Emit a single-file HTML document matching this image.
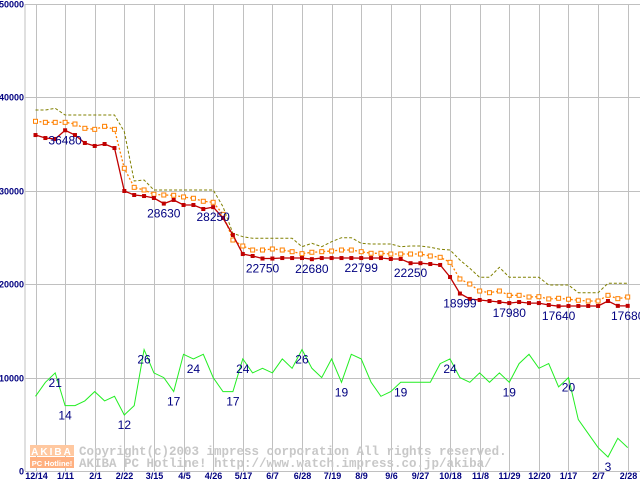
<!DOCTYPE html>
<html><head><meta charset="utf-8"><style>
html,body{margin:0;padding:0;background:#fff;}
svg{display:block;}
text{font-family:"Liberation Sans",sans-serif;}
</style></head><body>
<svg id="chart" width="640" height="480" viewBox="0 0 640 480" xmlns="http://www.w3.org/2000/svg">
<g id="grid"></g>
<g id="watermark">
<rect x="30" y="445" width="44" height="11" fill="#ffc8a0"/>
<rect x="30" y="457" width="44" height="11" fill="#ffb080"/>
<text x="52" y="455" font-size="10" font-weight="bold" fill="#fff" text-anchor="middle" letter-spacing="2">AKIBA</text>
<text x="52" y="466" font-size="7.5" font-weight="bold" fill="#fff" text-anchor="middle">PC Hotline!</text>
<text x="79" y="455" font-size="12.5" font-weight="bold" fill="#c8c8c8" style="font-family:'Liberation Mono',monospace">Copyright(c)2003 impress corporation All rights reserved.</text>
<text x="79" y="467" font-size="12.5" font-weight="bold" fill="#c8c8c8" style="font-family:'Liberation Mono',monospace">AKIBA PC Hotline!  http://www.watch.impress.co.jp/akiba/</text>
</g>
<g id="series"></g>
<g id="labels"></g>
</svg>
<script>
const xLabels=["12/14","1/11","2/1","2/22","3/15","4/5","4/26","5/17","6/7","6/28","7/19","8/9","9/6","9/27","10/18","11/8","11/29","12/20","1/17","2/7","2/28"];
const yTicks=[0,10000,20000,30000,40000,50000];
const minPrice=[35970,35650,35550,36480,35970,35120,34800,35010,34580,29980,29550,29440,29230,28630,29020,28480,28480,28050,28250,27090,25270,23230,23020,22750,22750,22800,22800,22800,22680,22800,22800,22800,22800,22799,22800,22800,22700,22700,22250,22250,22160,22060,20770,18999,18420,18310,18200,18090,17980,18090,17980,17980,17770,17640,17670,17670,17670,17670,18200,17680,17680];
const avgPrice=[37440,37330,37330,37330,37150,36690,36580,36900,36580,32410,30370,30090,29630,29550,29520,29340,29200,28880,28770,27480,24730,24090,23660,23660,23770,23660,23480,23270,23420,23480,23550,23660,23660,23480,23310,23310,23230,23230,23230,23230,23020,22880,22340,20560,20020,19270,19090,19270,18810,18810,18630,18660,18420,18490,18390,18280,18200,18200,18810,18450,18630];
const maxPrice=[38650,38650,38830,38120,38120,38120,38120,38120,38120,36330,31050,31160,30090,30090,30090,30090,30090,30090,30090,28300,25450,25090,24910,24910,24910,24910,24910,24010,24380,24010,24550,24980,24980,24380,24300,24300,24300,24010,24090,24090,23950,23740,23660,22590,21700,20740,20740,21810,20740,20740,20740,20740,19910,19910,19910,19090,19090,19090,20100,20100,20100];
const shopCount=[16,19,21,14,14,15,17,15,16,12,14,26,21,20,17,25,24,25,20,17,17,24,21,22,21,24,22,26,22,20,24,19,25,24,19,16,17,19,19,19,19,23,24,20,19,21,19,21,19,23,25,22,23,18,20,11,8,5,3,7,5];
const priceLabelIdx=[3,13,18,23,28,33,38,43,48,53,60];
const countLabelIdx=[2,3,9,11,14,16,20,21,27,31,37,42,48,54,58];
const countScale=500;

const NS="http://www.w3.org/2000/svg";
const X0=35.5, DX=9.87, Y0=471, YK=0.00934;
function xs(i){return X0+i*DX;}
function ys(v){return Y0-v*YK;}
function mk(tag,attrs,parent){const e=document.createElementNS(NS,tag);for(const k in attrs)e.setAttribute(k,attrs[k]);parent.appendChild(e);return e;}
const grid=document.getElementById('grid'),ser=document.getElementById('series'),lab=document.getElementById('labels');

// frame
let fr=mk('line',{x1:25,y1:4,x2:25,y2:471,stroke:'#c0c0c0','stroke-width':1},grid);


yTicks.forEach(t=>{
  const y=Math.round(ys(t))+0.5;
  const l=mk('line',{x1:25,y1:y,x2:640,y2:y,stroke:'#c0c0c0','stroke-width':1},grid);
  
  
  const tx=mk('text',{x:24,y:y+3,'font-size':9,'font-weight':'bold','fill':'#000080','text-anchor':'end'},grid);
  tx.textContent=t;
  
  
});
xLabels.forEach((s,k)=>{
  const x=Math.round(xs(k*3))+0.5;
  const l=mk('line',{x1:x,y1:4,x2:x,y2:471,stroke:'#c0c0c0','stroke-width':1},grid);
  
  
  const tx=mk('text',{x:x,y:479,'font-size':9,'font-weight':'bold','fill':'#000080','text-anchor':'middle'},grid);
  tx.textContent=s;
  
  
});
function pts(arr,sc){return arr.map((v,i)=>xs(i).toFixed(1)+','+ys(v*(sc||1)).toFixed(1)).join(' ');}
// max
let pl=mk('polyline',{points:pts(maxPrice),fill:'none',stroke:'#808000','stroke-width':1,'stroke-dasharray':'3,2'},ser);


// avg
pl=mk('polyline',{points:pts(avgPrice),fill:'none',stroke:'#ff8000','stroke-width':1.3,'stroke-dasharray':'2,2'},ser);


avgPrice.forEach((v,i)=>{
  const r=mk('rect',{x:xs(i)-2,y:ys(v)-2,width:4,height:4,fill:'#fff',stroke:'#ff8000','stroke-width':1},ser);
  
  
});
// min
pl=mk('polyline',{points:pts(minPrice),fill:'none',stroke:'#c00000','stroke-width':1.3},ser);


minPrice.forEach((v,i)=>{
  const r=mk('rect',{x:xs(i)-2,y:ys(v)-2,width:4,height:4,fill:'#c00000'},ser);
  
  
});
// count
pl=mk('polyline',{points:pts(shopCount,countScale),fill:'none',stroke:'#22ee22','stroke-width':1},ser);


priceLabelIdx.forEach(i=>{
  const t=mk('text',{x:xs(i),y:ys(minPrice[i])+14,'font-size':12,fill:'#000080','text-anchor':'middle'},lab);
  t.textContent=minPrice[i];
  
  
});
countLabelIdx.forEach(i=>{
  const t=mk('text',{x:xs(i),y:ys(shopCount[i]*countScale)+14,'font-size':12,fill:'#000080','text-anchor':'middle'},lab);
  t.textContent=shopCount[i];
  
  
});
</script>
</body></html>
